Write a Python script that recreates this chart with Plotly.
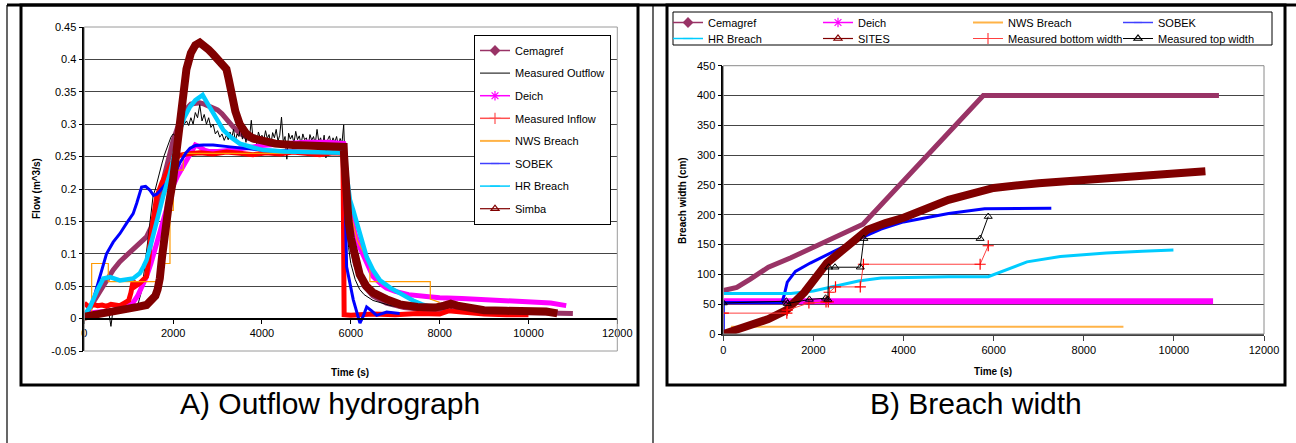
import plotly.graph_objects as go

W, H = 1296, 443
FONT = "Liberation Sans, Arial, sans-serif"

# series colours
C_CEM = "#993366"
C_OUT = "#000000"
C_DEICH = "#FF00FF"
C_INFLOW = "#FF0000"
C_NWS = "#FF9900"
C_SOBEK = "#0000FF"
C_HR = "#00CCFF"
C_SIMBA = "#800000"

# ---------------- A) Outflow hydrograph : flow (m^3/s) vs time (s) ----------------
a_ticks_x = [0, 2000, 4000, 6000, 8000, 10000, 12000]
a_ticks_x_text = ["0", "2000", "4000", "6000", "8000", "10000", "12000"]
a_ticks_y = [-0.05, 0, 0.05, 0.1, 0.15, 0.2, 0.25, 0.3, 0.35, 0.4, 0.45]
a_ticks_y_text = ["-0.05", "0", "0.05", "0.1", "0.15", "0.2", "0.25", "0.3", "0.35", "0.4", "0.45"]

cem_a_t = [0, 100, 200, 350, 500, 650, 800, 950, 1100, 1250, 1400, 1500, 1600, 1700, 1800, 1900, 2000,
           2100, 2200, 2300, 2400, 2500, 2600, 2700, 2800, 2900, 3000, 3100, 3200, 3350, 3500, 3700, 4000,
           4500, 5000, 5500, 5840, 5860, 5900, 6000, 6100, 6200, 6300, 6500, 6800, 7200, 7800, 8300, 8800,
           9500, 10200, 11000]
cem_a_q = [0.005, 0.012, 0.025, 0.042, 0.057, 0.075, 0.088, 0.098, 0.108, 0.116, 0.126, 0.14, 0.16, 0.185,
           0.22, 0.25, 0.275, 0.295, 0.312, 0.324, 0.331, 0.333, 0.333, 0.331, 0.328, 0.325, 0.322, 0.316,
           0.307, 0.296, 0.286, 0.278, 0.272, 0.268, 0.266, 0.265, 0.264, 0.24, 0.18, 0.12, 0.085, 0.065,
           0.05, 0.035, 0.024, 0.017, 0.013, 0.016, 0.012, 0.01, 0.009, 0.008]

out_rise_t = [0, 100, 200, 300, 400, 500, 560, 600, 640, 700, 800, 900, 1000, 1100, 1200, 1300, 1350, 1400,
              1450, 1500, 1550, 1600, 1650, 1700, 1750, 1800, 1850, 1900, 1950, 2000, 2050, 2100, 2150, 2200,
              2250, 2300, 2350, 2400, 2450, 2500, 2550, 2600, 2650, 2700, 2750, 2800, 2850, 2900, 2950, 3000,
              3050, 3100, 3150]
out_rise_q = [0.008, 0.01, 0.006, 0.012, 0.009, 0.011, 0.006, -0.012, 0.01, 0.012, 0.009, 0.013, 0.011,
              0.015, 0.02, 0.045, 0.075, 0.1, 0.14, 0.165, 0.19, 0.2, 0.215, 0.225, 0.24, 0.252, 0.262, 0.27,
              0.28, 0.285, 0.282, 0.29, 0.288, 0.295, 0.3, 0.305, 0.298, 0.31, 0.3, 0.318, 0.31, 0.33, 0.305,
              0.315, 0.3, 0.31, 0.295, 0.3, 0.285, 0.29, 0.28, 0.285, 0.275]
out_plateau_t = list(range(3200, 5841, 40))
out_plateau_q = [0.283, 0.276, 0.288, 0.279, 0.292, 0.274, 0.285, 0.281, 0.297, 0.277, 0.286, 0.272, 0.289,
                 0.280, 0.306, 0.276, 0.284, 0.270, 0.288, 0.279, 0.283,
                 0.275, 0.290, 0.278, 0.284, 0.268, 0.287, 0.279, 0.292, 0.274, 0.283, 0.311, 0.272, 0.281,
                 0.246, 0.286, 0.277, 0.283, 0.271, 0.289, 0.276,
                 0.282, 0.269, 0.285, 0.276, 0.279, 0.266, 0.284, 0.275, 0.281, 0.270, 0.292, 0.273, 0.279,
                 0.265, 0.283, 0.248, 0.276, 0.282, 0.268, 0.279,
                 0.272, 0.281, 0.266, 0.278, 0.270, 0.299]
out_fall_t = [5860, 5880, 5900, 5950, 6000, 6100, 6200, 6300, 6400, 6500, 6700, 6900, 7100, 7400, 7700, 8000,
              8200, 8230, 8260, 8300]
out_fall_q = [0.26, 0.2, 0.15, 0.11, 0.085, 0.06, 0.045, 0.037, 0.032, 0.028, 0.024, 0.02, 0.018, 0.016,
              0.015, 0.014, 0.016, 0.026, 0.014, 0.013]

deich_a_t = [0, 300, 600, 900, 1100, 1200, 1300, 1400, 1500, 1600, 1700, 1800, 1900, 2000, 2100, 2200, 2300,
             2400, 2500, 2600, 2700, 2800, 3000, 3300, 3600, 4000, 4500, 5000, 5500, 5840, 5850, 5900, 6000,
             6100, 6200, 6300, 6500, 6700, 6800, 7000, 7300, 7700, 8000, 8500, 9000, 9500, 10000, 10500, 10850]
deich_a_q = [0.008, 0.01, 0.012, 0.018, 0.025, 0.035, 0.05, 0.065, 0.085, 0.11, 0.135, 0.16, 0.185, 0.205,
             0.22, 0.232, 0.242, 0.255, 0.268, 0.265, 0.26, 0.258, 0.258, 0.26, 0.263, 0.267, 0.27, 0.272,
             0.272, 0.27, 0.26, 0.2, 0.16, 0.13, 0.11, 0.095, 0.065, 0.052, 0.047, 0.042, 0.037, 0.034,
             0.032, 0.031, 0.029, 0.028, 0.026, 0.024, 0.02]

inflow_t = [0, 100, 200, 300, 400, 500, 600, 700, 800, 900, 1000, 1050, 1100, 1150, 1250, 1400, 1450, 1500,
            1550, 1630, 1750, 1850, 1950, 2050, 2150, 2300, 2600, 2900, 3200, 3500, 3800, 4100, 4400, 4700,
            5000, 5300, 5600, 5820, 5830, 5850, 6000, 6500, 7000, 7500, 8000, 8200, 8500, 9000, 9500, 10000]
inflow_q = [0.024, 0.018, 0.022, 0.02, 0.021, 0.019, 0.022, 0.021, 0.02, 0.024, 0.028, 0.04, 0.058, 0.05,
            0.055, 0.065, 0.09, 0.13, 0.155, 0.188, 0.21, 0.225, 0.238, 0.247, 0.252, 0.254, 0.256, 0.254,
            0.257, 0.255, 0.253, 0.256, 0.254, 0.257, 0.255, 0.253, 0.256, 0.255, 0.2, 0.006, 0.005, 0.007,
            0.006, 0.008, 0.007, 0.012, 0.01, 0.007, 0.006, 0.006]

nws_a_t = [0, 166, 166, 540, 540, 1704, 1704, 1929, 1929, 2004, 2004, 2229, 2229, 5850, 5870, 6000, 6150,
           6300, 6430, 6430, 7790, 7790, 8000]
nws_a_q = [0.0, 0.0, 0.085, 0.085, 0.057, 0.057, 0.085, 0.085, 0.167, 0.167, 0.229, 0.229, 0.255, 0.255,
           0.22, 0.16, 0.12, 0.1, 0.088, 0.057, 0.057, 0.03, 0.025]

sobek_a_t = [0, 100, 200, 350, 500, 650, 800, 950, 1100, 1180, 1290, 1380, 1480, 1560, 1630, 1700, 1800,
             1930, 2050, 2150, 2280, 2380, 2500, 2680, 2900, 3280, 3600, 4030, 4500, 5000, 5500, 5840, 5860,
             5906, 6056, 6206, 6282, 6357, 6470, 6582, 6807, 7100]
sobek_a_q = [0.0, 0.012, 0.029, 0.065, 0.1, 0.118, 0.131, 0.147, 0.162, 0.178, 0.203, 0.204, 0.198, 0.19,
             0.192, 0.197, 0.205, 0.214, 0.225, 0.24, 0.255, 0.263, 0.267, 0.268, 0.268, 0.265, 0.263, 0.26,
             0.259, 0.258, 0.257, 0.256, 0.22, 0.08, 0.029, -0.007, 0.004, 0.018, 0.012, 0.005, 0.01, 0.008]

hr_a_t = [0, 130, 300, 430, 580, 800, 1100, 1250, 1330, 1400, 1500, 1630, 1780, 1930, 2050, 2150, 2250, 2380,
          2500, 2600, 2665, 2750, 2900, 3000, 3130, 3300, 3500, 3800, 4030, 4500, 5000, 5500, 5840, 5860,
          5900, 5981, 6056, 6207, 6357, 6500, 6656, 6900, 7107, 7400, 7600, 7800]
hr_a_q = [0.005, 0.018, 0.045, 0.062, 0.064, 0.059, 0.062, 0.07, 0.08, 0.09, 0.115, 0.152, 0.19, 0.224, 0.26,
          0.291, 0.31, 0.327, 0.337, 0.342, 0.345, 0.335, 0.317, 0.305, 0.291, 0.28, 0.27, 0.264, 0.26, 0.258,
          0.257, 0.257, 0.256, 0.245, 0.22, 0.183, 0.167, 0.131, 0.095, 0.075, 0.059, 0.047, 0.039, 0.028,
          0.022, 0.018]

simba_t = [0, 300, 600, 900, 1200, 1400, 1500, 1600, 1650, 1700, 1750, 1800, 1900, 2000, 2100, 2150, 2200,
           2300, 2400, 2500, 2600, 2700, 2800, 2900, 3000, 3100, 3200, 3250, 3300, 3400, 3500, 3650, 3800,
           4000, 4300, 4700, 5200, 5840, 5850, 5900, 5950, 6000, 6100, 6200, 6350, 6500, 6800, 7100, 7500,
           7900, 8100, 8250, 8400, 8700, 9000, 9500, 10000, 10400, 10650]
simba_q = [0.003, 0.006, 0.009, 0.013, 0.018, 0.021, 0.027, 0.035, 0.045, 0.062, 0.095, 0.13, 0.175, 0.215,
           0.27, 0.31, 0.34, 0.385, 0.41, 0.422, 0.426, 0.422, 0.415, 0.408, 0.4, 0.394, 0.385, 0.37, 0.35,
           0.32, 0.3, 0.285, 0.278, 0.274, 0.27, 0.268, 0.266, 0.265, 0.25, 0.19, 0.15, 0.125, 0.09, 0.068,
           0.05, 0.04, 0.03, 0.022, 0.018, 0.017, 0.02, 0.023, 0.02, 0.015, 0.013, 0.012, 0.012, 0.011, 0.008]

# ---------------- B) Breach width : width (cm) vs time (s) ----------------
b_ticks_x = [0, 2000, 4000, 6000, 8000, 10000, 12000]
b_ticks_x_text = ["0", "2000", "4000", "6000", "8000", "10000", "12000"]
b_ticks_y = [0, 50, 100, 150, 200, 250, 300, 350, 400, 450]

cem_b_t = [0, 300, 600, 1000, 1500, 2000, 2500, 3000, 3100, 5770, 11000]
cem_b_w = [73, 78, 92, 112, 128, 145, 163, 180, 184, 400, 400]

deich_b_t = [0, 10870]
deich_b_w = [55, 55]

nws_b_t = [170, 8880]
nws_b_w = [12, 12]

sobek_b_t = [0, 0, 1300, 1350, 1420, 1600, 1930, 2300, 2600, 3110, 3500, 4000, 5000, 5800, 7280]
sobek_b_w = [0, 53, 53, 65, 87, 105, 119, 133, 144, 163, 176, 188, 202, 210, 211]

hr_b_t = [0, 1500, 2000, 2500, 3000, 3500, 4000, 5000, 5880, 6200, 6740, 7480, 8500, 9300, 9990]
hr_b_w = [68, 68, 72, 81, 89, 94, 95, 96, 96, 105, 121, 130, 136, 139, 141]

sites_t = [0, 500, 1000, 1400, 1800, 2300, 2800, 3200, 3600, 4000, 5000, 6000, 7000, 8000, 9000, 10000, 10700]
sites_w = [0, 12, 25, 40, 70, 119, 150, 175, 186, 195, 225, 245, 253, 258, 263, 268, 273]

bottom_t = [0, 1410, 1420, 1900, 2280, 2330, 2350, 2490, 3040, 3110, 5700, 5880]
bottom_w = [35, 35, 40, 52, 54, 54, 70, 79, 79, 117, 117, 148]

top_t = [0, 1400, 1420, 1910, 2270, 2320, 2340, 2480, 3040, 3120, 5700, 5880]
top_w = [52, 55, 51, 58, 60, 58, 112, 112, 112, 160, 160, 197]


def px(x):
    return x / W


def py(y):
    return 1 - y / H


fig = go.Figure()


def line(t, v, color, width, axis):
    xa, ya = axis
    fig.add_trace(go.Scatter(x=t, y=v, mode="lines", line=dict(color=color, width=width),
                             xaxis=xa, yaxis=ya, showlegend=False, hoverinfo="skip"))


def key(name, color, legend, symbol=None, lw=1.5, msize=7, group=None):
    mode = "lines+markers" if symbol else "lines"
    marker = dict(symbol=symbol, size=msize, color=color, line=dict(color=color, width=1.2)) if symbol else None
    fig.add_trace(go.Scatter(x=[None], y=[None], mode=mode, name=name, legend=legend,
                             legendgroup=group, line=dict(color=color, width=lw), marker=marker,
                             xaxis="x", yaxis="y", hoverinfo="skip"))


A = ("x", "y")
B = ("x2", "y2")

# chart A series, drawn in legend order
line(cem_a_t, cem_a_q, C_CEM, 5, A)
line(out_rise_t + out_plateau_t + out_fall_t, out_rise_q + out_plateau_q + out_fall_q, C_OUT, 1, A)
line(deich_a_t, deich_a_q, C_DEICH, 5, A)
line(inflow_t, inflow_q, C_INFLOW, 5, A)
line(nws_a_t, nws_a_q, C_NWS, 1.2, A)
line(sobek_a_t, sobek_a_q, C_SOBEK, 3, A)
line(hr_a_t, hr_a_q, C_HR, 4.5, A)
line(simba_t, simba_q, C_SIMBA, 8, A)

# chart B series
line(cem_b_t, cem_b_w, C_CEM, 5, B)
line(deich_b_t, deich_b_w, C_DEICH, 6, B)
line(nws_b_t, nws_b_w, "#FFB347", 2, B)
line(sobek_b_t, sobek_b_w, C_SOBEK, 3, B)
line(hr_b_t, hr_b_w, C_HR, 3, B)
line(sites_t, sites_w, C_SIMBA, 8, B)
fig.add_trace(go.Scatter(x=bottom_t, y=bottom_w, mode="lines+markers", xaxis="x2", yaxis="y2",
                         line=dict(color="#FF4040", width=1),
                         marker=dict(symbol="cross-thin-open", size=8, color="#FF0000",
                                     line=dict(color="#FF0000", width=1.2)),
                         showlegend=False, hoverinfo="skip"))
fig.add_trace(go.Scatter(x=top_t, y=top_w, mode="lines+markers", xaxis="x2", yaxis="y2",
                         line=dict(color="#000000", width=1),
                         marker=dict(symbol="triangle-up-open", size=7, color="#000000",
                                     line=dict(color="#000000", width=1)),
                         showlegend=False, hoverinfo="skip"))

# legend entries, chart A
key("Cemagref", C_CEM, "legend", "diamond", 1.5, 7, "a1")
key("Measured Outflow", C_OUT, "legend", None, 1, 7, "a2")
key("Deich", C_DEICH, "legend", "asterisk-open", 1.5, 8, "a3")
key("Measured Inflow", "#FF5050", "legend", "cross-thin-open", 1.5, 8, "a4")
key("NWS Breach", "#FFB347", "legend", None, 2, 7, "a5")
key("SOBEK", "#4040FF", "legend", "line-ew-open", 1.5, 6, "a6")
key("HR Breach", C_HR, "legend", "line-ew-open", 1.5, 7, "a7")
key("Simba", C_SIMBA, "legend", "triangle-up-open", 1.2, 7, "a8")

# legend entries, chart B (two rows)
key("Cemagref", C_CEM, "legend2", "diamond", 1.5, 7)
key("Deich", C_DEICH, "legend2", "asterisk-open", 1.5, 8)
key("NWS Breach", "#FFB347", "legend2", None, 2, 7)
key("SOBEK", "#4040FF", "legend2", "line-ew-open", 1.5, 6)
key("HR Breach", C_HR, "legend3", "line-ew-open", 1.5, 7)
key("SITES", C_SIMBA, "legend3", "triangle-up-open", 1.2, 7)
key("Measured bottom width", "#FF4040", "legend3", "cross-thin-open", 1, 8)
key("Measured top width", "#000000", "legend3", "triangle-up-open", 1, 7)

tickfont = dict(family=FONT, size=11, color="#000000")
legfont = dict(family=FONT, size=11, color="#000000")
GRID = "#454545"
ENTRY_W = 105

fig.update_layout(
    width=W, height=H, margin=dict(l=0, r=0, t=0, b=0, autoexpand=False),
    paper_bgcolor="white", plot_bgcolor="white",
    font=dict(family=FONT, color="#000000"),
    xaxis=dict(domain=[px(84.3), px(617.3)], range=[0, 12000], tickvals=a_ticks_x, ticktext=a_ticks_x_text,
               anchor="free", position=py(318.5), showline=True, linecolor="#000000", linewidth=1.5,
               ticks="outside", ticklen=5, tickcolor="#000000", showgrid=False, zeroline=False,
               tickfont=tickfont),
    yaxis=dict(domain=[py(351), py(27)], range=[-0.05, 0.45], tickvals=a_ticks_y, ticktext=a_ticks_y_text,
               anchor="x", showline=True, linecolor="#000000", linewidth=1.5, ticks="outside",
               ticklen=4, tickcolor="#000000", showgrid=True, gridcolor=GRID, gridwidth=1,
               zeroline=False, tickfont=tickfont),
    xaxis2=dict(domain=[px(723.3), px(1264)], range=[0, 12000], tickvals=b_ticks_x, ticktext=b_ticks_x_text,
                anchor="y2", showline=True, linecolor="#404040", linewidth=2, ticks="outside", ticklen=5,
                tickcolor="#404040", showgrid=False, zeroline=False, tickfont=tickfont),
    yaxis2=dict(domain=[py(334), py(65.7)], range=[0, 450], tickvals=b_ticks_y, anchor="x2",
                showline=True, linecolor="#000000", linewidth=1.5, ticks="outside", ticklen=4,
                tickcolor="#000000", showgrid=True, gridcolor=GRID, gridwidth=1, zeroline=False,
                tickfont=tickfont),
    legend=dict(x=px(474), y=py(35), xanchor="left", yanchor="top", bgcolor="white",
                bordercolor="#000000", borderwidth=1, font=legfont, traceorder="grouped",
                tracegroupgap=3.6),
    legend2=dict(x=px(668), y=py(8), xanchor="left", yanchor="top", orientation="h",
                 bgcolor="rgba(0,0,0,0)", borderwidth=0, font=legfont, entrywidth=ENTRY_W,
                 entrywidthmode="pixels", traceorder="normal"),
    legend3=dict(x=px(668), y=py(24), xanchor="left", yanchor="top", orientation="h",
                 bgcolor="rgba(0,0,0,0)", borderwidth=0, font=legfont, entrywidth=ENTRY_W,
                 entrywidthmode="pixels", traceorder="normal"),
)


def rect(x0, y0, x1, y1, color, width):
    fig.add_shape(type="rect", xref="paper", yref="paper", x0=px(x0), x1=px(x1), y0=py(y0), y1=py(y1),
                  line=dict(color=color, width=width), fillcolor="rgba(0,0,0,0)")


def seg(x0, y0, x1, y1, color, width):
    fig.add_shape(type="line", xref="paper", yref="paper", x0=px(x0), x1=px(x1), y0=py(y0), y1=py(y1),
                  line=dict(color=color, width=width))


# plot-area borders
fig.add_shape(type="rect", xref="x domain", yref="y domain", x0=0, x1=1, y0=0, y1=1,
              line=dict(color="#9a9a9a", width=1))
fig.add_shape(type="rect", xref="x2 domain", yref="y2 domain", x0=0, x1=1, y0=0, y1=1,
              line=dict(color="#8a8a8a", width=1))

# table rules and chart frames
seg(7, 5, W, 5, "#000000", 3)
seg(7, 5, 7, H, "#000000", 1.2)
seg(653, 5, 653, H, "#000000", 1.2)
rect(21, 5, 638, 385, "#000000", 3)
rect(667, 5, 1285, 385, "#000000", 3)
rect(673, 12, 1272, 45, "#000000", 1)

ann = []
# axis titles
ann.append(dict(text="<b>Flow (m^3/s)</b>", x=px(36), y=py(189), textangle=-90, font=dict(size=10)))
ann.append(dict(text="<b>Time (s)</b>", x=px(350), y=py(372), font=dict(size=10)))
ann.append(dict(text="<b>Breach width (cm)</b>", x=px(683), y=py(200), textangle=-90, font=dict(size=10)))
ann.append(dict(text="<b>Time (s)</b>", x=px(993), y=py(371), font=dict(size=10)))
# captions
ann.append(dict(text="A) Outflow hydrograph", x=px(330), y=py(403), font=dict(size=30)))
ann.append(dict(text="B) Breach width", x=px(976), y=py(403), font=dict(size=30)))
for a in ann:
    a.update(xref="paper", yref="paper", showarrow=False, xanchor="center", yanchor="middle")
    a["font"].update(family=FONT, color="#000000")
fig.update_layout(annotations=ann)

fig.write_html("out.html")
